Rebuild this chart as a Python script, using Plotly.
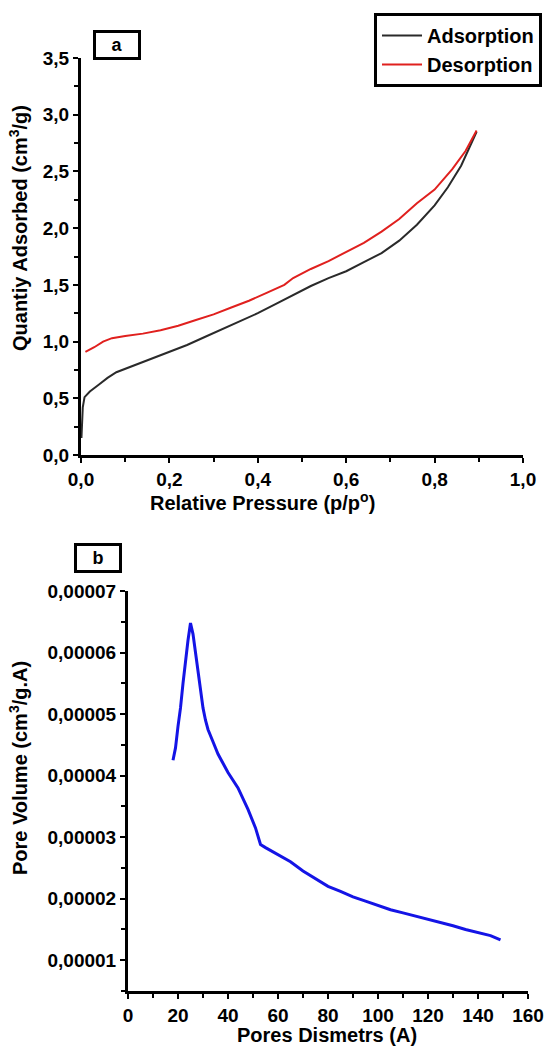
import plotly.graph_objects as go

# ---- Panel a: N2 isotherm ----
ads_p = [0.001, 0.002, 0.004, 0.008, 0.02, 0.04, 0.06, 0.08, 0.10, 0.13, 0.16, 0.20, 0.24, 0.28,
         0.32, 0.36, 0.40, 0.44, 0.48, 0.52, 0.56, 0.60, 0.64, 0.68, 0.72, 0.76, 0.80, 0.83, 0.86,
         0.88, 0.895]
ads_q = [0.15, 0.30, 0.42, 0.51, 0.56, 0.62, 0.68, 0.73, 0.76, 0.80, 0.85, 0.91, 0.97, 1.04,
         1.11, 1.18, 1.25, 1.33, 1.41, 1.49, 1.56, 1.62, 1.70, 1.78, 1.89, 2.03, 2.20, 2.36, 2.55,
         2.72, 2.85]
des_p = [0.01, 0.03, 0.05, 0.07, 0.10, 0.14, 0.18, 0.22, 0.26, 0.30, 0.34, 0.38, 0.42, 0.46,
         0.48, 0.52, 0.56, 0.60, 0.64, 0.68, 0.72, 0.76, 0.80, 0.84, 0.87, 0.895]
des_q = [0.91, 0.95, 1.00, 1.03, 1.05, 1.07, 1.10, 1.14, 1.19, 1.24, 1.30, 1.36, 1.43, 1.50,
         1.56, 1.64, 1.71, 1.79, 1.87, 1.97, 2.08, 2.22, 2.34, 2.52, 2.68, 2.86]

# ---- Panel b: pore size distribution ----
pore_d = [18, 19, 20, 21, 22, 23, 24, 25, 26, 27, 28, 29, 30, 31, 32, 34, 36, 38, 40, 44, 48,
          51, 53, 55, 60, 65, 70, 75, 80, 85, 90, 95, 100, 105, 110, 115, 120, 125, 130, 135,
          140, 145, 149]
pore_v = [4.25e-5, 4.45e-5, 4.8e-5, 5.1e-5, 5.5e-5, 5.9e-5, 6.2e-5, 6.48e-5, 6.3e-5, 6.0e-5,
          5.7e-5, 5.4e-5, 5.1e-5, 4.9e-5, 4.75e-5, 4.55e-5, 4.35e-5, 4.2e-5, 4.05e-5, 3.8e-5,
          3.45e-5, 3.15e-5, 2.88e-5, 2.83e-5, 2.72e-5, 2.6e-5, 2.45e-5, 2.32e-5, 2.2e-5,
          2.12e-5, 2.03e-5, 1.96e-5, 1.89e-5, 1.82e-5, 1.77e-5, 1.72e-5, 1.67e-5, 1.61e-5,
          1.56e-5, 1.5e-5, 1.45e-5, 1.4e-5, 1.33e-5]

W, H = 547, 1046
FONT = "Liberation Sans"

def px_x(p):
    return p / W

def px_y(p):
    return 1 - p / H

fig = go.Figure()
fig.add_trace(go.Scatter(x=ads_p, y=ads_q, mode="lines", name="Adsorption",
                         line=dict(color="#2a2a2a", width=2), xaxis="x", yaxis="y"))
fig.add_trace(go.Scatter(x=des_p, y=des_q, mode="lines", name="Desorption",
                         line=dict(color="#e0201e", width=2), xaxis="x", yaxis="y"))
fig.add_trace(go.Scatter(x=pore_d, y=pore_v, mode="lines", showlegend=False,
                         line=dict(color="#1414e6", width=3), xaxis="x2", yaxis="y2"))

tickfont = dict(family=FONT, size=19, color="black", weight="bold")
axis_common = dict(showline=True, linewidth=3, linecolor="black", mirror=False,
                   showgrid=False, zeroline=False, ticks="outside", ticklen=5,
                   tickwidth=2, tickcolor="black", tickfont=tickfont, automargin=False)

fig.update_layout(
    width=W, height=H,
    margin=dict(l=0, r=0, t=0, b=0),
    paper_bgcolor="white", plot_bgcolor="white",
    separators=",.",
    xaxis=dict(domain=[px_x(81), px_x(523)], anchor="y", range=[0, 1], dtick=0.2, tick0=0,
               tickformat=".1f", minor=dict(dtick=0.1, ticks="outside", ticklen=4,
                                            tickwidth=2, tickcolor="black"), **axis_common),
    yaxis=dict(domain=[px_y(455), px_y(58)], anchor="x", range=[0, 3.5], dtick=0.5, tick0=0,
               tickformat=".1f", minor=dict(dtick=0.25, ticks="outside", ticklen=4,
                                            tickwidth=2, tickcolor="black"), **axis_common),
    xaxis2=dict(domain=[px_x(128), px_x(528)], anchor="y2", range=[0, 160], dtick=20, tick0=0,
                minor=dict(dtick=10, ticks="outside", ticklen=4, tickwidth=2,
                           tickcolor="black"), **axis_common),
    yaxis2=dict(domain=[px_y(991), px_y(591)], anchor="x2", range=[0.000005, 0.00007],
                tickvals=[0.00001, 0.00002, 0.00003, 0.00004, 0.00005, 0.00006, 0.00007],
                tickformat=".5f", minor=dict(dtick=0.000005, tick0=0, ticks="outside",
                                             ticklen=4, tickwidth=2, tickcolor="black"),
                **axis_common),
    legend=dict(x=px_x(542), xanchor="right", y=px_y(13), yanchor="top",
                bordercolor="black", borderwidth=3, bgcolor="white",
                font=dict(family=FONT, size=20, color="black", weight="bold"),
                tracegroupgap=0, itemwidth=40),
    showlegend=True,
)

title_font = dict(family=FONT, size=20, color="black", weight="bold")
annots = [
    dict(text="Relative Pressure (p/p<sup>o</sup>)", x=px_x(262), y=px_y(502)),
    dict(text="Quantiy Adsorbed (cm<sup>3</sup>/g)", x=px_x(18), y=px_y(228), textangle=-90),
    dict(text="Pores Dismetrs (A)", x=px_x(327), y=px_y(1035)),
    dict(text="Pore Volume (cm<sup>3</sup>/g.A)", x=px_x(18), y=px_y(768), textangle=-90),
]
for a in annots:
    fig.add_annotation(xref="paper", yref="paper", showarrow=False, font=title_font,
                       xanchor="center", yanchor="middle", **a)

for lbl, cx, cy in [("a", 117, 45), ("b", 98, 558)]:
    fig.add_annotation(text=lbl, xref="paper", yref="paper", x=px_x(cx), y=px_y(cy),
                       showarrow=False, xanchor="center", yanchor="middle",
                       font=dict(family=FONT, size=18, color="black", weight="bold"),
                       bordercolor="black", borderwidth=3, borderpad=1,
                       width=40, height=22, bgcolor="white")

fig.write_html("out.html",
               config={"displayModeBar": False},
               post_script="document.body.style.margin='0';"
                           "document.body.style.overflow='hidden';")
